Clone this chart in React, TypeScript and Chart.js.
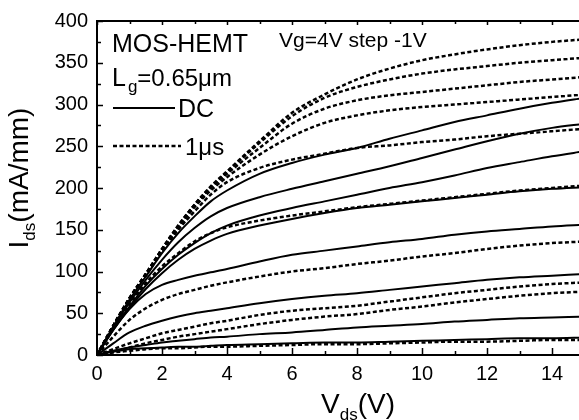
import React, { useEffect, useRef } from "react";
import { Chart, registerables } from "chart.js";

Chart.register(...registerables);

// Drain voltage samples (V)
const VDS = [0, 0.5, 1, 1.5, 2, 2.5, 3, 3.5, 4, 5, 6, 7, 8, 9, 10, 11, 12, 13, 14, 15];

// DC curves (mA/mm), solid
const DC_1 = [0, 34, 66, 94, 122, 146, 166, 184, 197, 217, 230, 240, 248, 259, 269, 279, 287, 295, 302, 308];
const DC_2 = [0, 33, 63, 90, 114, 135, 152, 166, 176, 189, 199, 208, 217, 226, 236, 246, 256, 265, 272, 277];
const DC_3 = [0, 31, 58, 83, 103, 120, 134, 146, 155, 167, 176, 184, 192, 200, 207, 215, 224, 231, 238, 244];
const DC_4 = [0, 30, 56, 79, 98, 114, 127, 137, 145, 155, 163, 170, 176, 180, 184, 188, 192, 196, 199, 201];
const DC_5 = [0, 30, 55, 73, 84, 90, 95, 99, 103, 112, 120, 125, 130, 135, 139, 144, 148, 151, 154, 156];
const DC_6 = [0, 14, 27, 35, 41, 46, 50, 53, 56, 62, 67, 71, 74, 78, 82, 86, 90, 93, 95, 97];
const DC_7 = [0, 5, 9, 12, 15, 17, 19, 21, 22, 25, 27, 30, 33, 35, 37, 40, 42, 44, 45, 46];
const DC_8 = [0, 4, 7, 8, 9, 10, 10, 11, 12, 13, 14, 15, 15, 16, 17, 18, 19, 20, 20, 21];

// 1 us pulsed curves (mA/mm), dashed
const P_1 = [0, 35, 68, 97, 127, 155, 180, 202, 220, 256, 290, 312, 330, 343, 353, 360, 366, 371, 375, 378];
const P_2 = [0, 35, 68, 97, 127, 155, 180, 201, 219, 254, 286, 308, 321, 330, 337, 342, 346, 350, 353, 356];
const P_3 = [0, 35, 68, 97, 126, 154, 179, 200, 217, 248, 277, 295, 305, 311, 315, 319, 323, 327, 330, 333];
const P_4 = [0, 35, 68, 96, 125, 152, 177, 197, 213, 240, 262, 278, 287, 293, 297, 300, 303, 306, 309, 312];
const P_5 = [0, 35, 67, 95, 124, 150, 172, 192, 207, 224, 234, 241, 248, 251, 255, 258, 262, 265, 268, 271];
const P_6 = [0, 32, 60, 86, 106, 122, 136, 146, 153, 161, 167, 172, 177, 181, 185, 189, 193, 197, 200, 203];
const P_7 = [0, 22, 42, 56, 66, 73, 78, 83, 87, 94, 100, 104, 109, 113, 118, 122, 127, 131, 134, 136];
const P_8 = [0, 7, 14, 20, 26, 30, 34, 38, 41, 48, 53, 56, 59, 64, 69, 74, 78, 82, 85, 87];
const P_9 = [0, 4, 9, 14, 18, 22, 25, 28, 31, 37, 42, 46, 49, 54, 58, 63, 67, 71, 74, 76];
const P_10 = [0, 3, 5, 7, 8, 8, 9, 10, 10, 11, 12, 13, 13, 14, 15, 16, 16, 17, 18, 18];

const DC_SERIES = [DC_1, DC_2, DC_3, DC_4, DC_5, DC_6, DC_7, DC_8];
const PULSE_SERIES = [P_1, P_2, P_3, P_4, P_5, P_6, P_7, P_8, P_9, P_10];

// Axis ticks
const X_MIN = 0;
const X_MAX = 14.83;
const X_STEP = 2;
const X_MINOR = 1;
const Y_MIN = 0;
const Y_MAX = 400;
const Y_STEP = 50;
const Y_MINOR = 25;

const FONT = "'Liberation Sans', Arial, Helvetica, sans-serif";

const toPts = (ys: number[]) => VDS.map((x, i) => ({ x, y: ys[i] }));

const decorPlugin = {
  id: "decor",
  afterDraw(chart: any) {
    const { ctx, chartArea: a, scales } = chart;
    const xs = scales.x;
    const ys = scales.y;
    ctx.save();
    ctx.strokeStyle = "#000";
    ctx.fillStyle = "#000";
    // frame
    ctx.lineWidth = 2;
    ctx.beginPath();
    ctx.moveTo(a.right + 2, a.top);
    ctx.lineTo(a.left, a.top);
    ctx.lineTo(a.left, a.bottom);
    ctx.lineTo(a.right + 2, a.bottom);
    ctx.stroke();
    // ticks (inward)
    ctx.lineWidth = 1.5;
    ctx.beginPath();
    for (let v = X_MIN; v <= X_MAX; v += X_MINOR) {
      const px = Math.round(xs.getPixelForValue(v)) + 0.5;
      const major = Math.abs(v % X_STEP) < 1e-6;
      const len = major ? 7 : 4;
      ctx.moveTo(px, a.bottom);
      ctx.lineTo(px, a.bottom - len);
      ctx.moveTo(px, a.top);
      ctx.lineTo(px, a.top + (major ? 4 : 3));
    }
    for (let v = Y_MIN; v <= Y_MAX; v += Y_MINOR) {
      const py = Math.round(ys.getPixelForValue(v)) + 0.5;
      const major = v % Y_STEP === 0;
      const len = major ? 6 : 4;
      ctx.moveTo(a.left, py);
      ctx.lineTo(a.left + len, py);
    }
    ctx.stroke();

    // x-axis title V_ds(V)
    ctx.textBaseline = "alphabetic";
    ctx.textAlign = "left";
    const big = `28px ${FONT}`;
    const sub = `17px ${FONT}`;
    ctx.font = big;
    const wV = ctx.measureText("V").width;
    const wP = ctx.measureText("(V)").width;
    ctx.font = sub;
    const wS = ctx.measureText("ds").width;
    let x0 = 358 - (wV + wS + wP) / 2;
    const by = 413;
    ctx.font = big;
    ctx.fillText("V", x0, by);
    ctx.font = sub;
    ctx.fillText("ds", x0 + wV, by + 7);
    ctx.font = big;
    ctx.fillText("(V)", x0 + wV + wS, by);

    // y-axis title I_ds(mA/mm)
    ctx.save();
    ctx.translate(28, 178);
    ctx.rotate(-Math.PI / 2);
    ctx.font = big;
    const wI = ctx.measureText("I").width;
    const wU = ctx.measureText("(mA/mm)").width;
    ctx.font = sub;
    const wS2 = ctx.measureText("ds").width;
    let y0 = -(wI + wS2 + wU) / 2;
    ctx.font = big;
    ctx.fillText("I", y0, 0);
    ctx.font = sub;
    ctx.fillText("ds", y0 + wI, 7);
    ctx.font = big;
    ctx.fillText("(mA/mm)", y0 + wI + wS2, 0);
    ctx.restore();

    // annotations
    ctx.font = `25px ${FONT}`;
    ctx.fillText("MOS-HEMT", 112, 52);
    ctx.fillText("L", 112, 86);
    const wL = ctx.measureText("L").width;
    ctx.font = sub;
    ctx.fillText("g", 112 + wL + 2, 92);
    const wg = ctx.measureText("g").width;
    ctx.font = `24px ${FONT}`;
    ctx.fillText("=0.65\u03bcm", 112 + wL + 2 + wg, 86);
    ctx.font = `25px ${FONT}`;
    ctx.fillText("DC", 178, 117);
    ctx.font = `24px ${FONT}`;
    ctx.fillText("1\u03bcs", 185, 155);
    ctx.font = `21px ${FONT}`;
    ctx.fillText("Vg=4V step -1V", 279, 47);

    // legend lines
    ctx.lineWidth = 2;
    ctx.beginPath();
    ctx.moveTo(113, 108);
    ctx.lineTo(175, 108);
    ctx.stroke();
    ctx.lineWidth = 2.5;
    ctx.setLineDash([4, 2.5]);
    ctx.beginPath();
    ctx.moveTo(113, 146);
    ctx.lineTo(181, 146);
    ctx.stroke();
    ctx.restore();
  },
};

export default function App() {
  const ref = useRef<HTMLCanvasElement | null>(null);
  useEffect(() => {
    if (!ref.current) return;
    const datasets: any[] = [];
    DC_SERIES.forEach((s, i) =>
      datasets.push({
        label: `DC ${i + 1}`,
        data: toPts(s),
        borderColor: "#000",
        borderWidth: 2,
        pointRadius: 0,
        fill: false,
        cubicInterpolationMode: "monotone",
      })
    );
    PULSE_SERIES.forEach((s, i) =>
      datasets.push({
        label: `1us ${i + 1}`,
        data: toPts(s),
        borderColor: "#000",
        borderWidth: 2.5,
        borderDash: [4, 2.5],
        pointRadius: 0,
        fill: false,
        cubicInterpolationMode: "monotone",
      })
    );
    const chart = new Chart(ref.current, {
      type: "line",
      data: { datasets },
      options: {
        animation: false,
        responsive: false,
        devicePixelRatio: 1,
        layout: { padding: { top: 15, right: 0, left: 0, bottom: 0 } },
        plugins: { legend: { display: false }, tooltip: { enabled: false } },
        scales: {
          x: {
            type: "linear",
            min: X_MIN,
            max: X_MAX,
            grid: { display: false, drawTicks: false },
            border: { display: false },
            ticks: {
              stepSize: X_STEP,
              includeBounds: false,
              padding: 7,
              color: "#000",
              font: { family: FONT, size: 20 },
              maxRotation: 0,
              autoSkip: false,
            },
            afterFit: (s: any) => {
              s.height = 65;
            },
          },
          y: {
            type: "linear",
            min: Y_MIN,
            max: Y_MAX,
            grid: { display: false, drawTicks: false },
            border: { display: false },
            ticks: {
              stepSize: Y_STEP,
              padding: 9,
              color: "#000",
              font: { family: FONT, size: 20 },
            },
            afterFit: (s: any) => {
              s.width = 97;
            },
          },
        },
      },
      plugins: [decorPlugin],
    });
    return () => chart.destroy();
  }, []);
  return (
    <div style={{ position: "absolute", left: 0, top: 0, width: 579, height: 420, background: "#fff" }}>
      <canvas ref={ref} width={579} height={420} style={{ display: "block" }} />
    </div>
  );
}
